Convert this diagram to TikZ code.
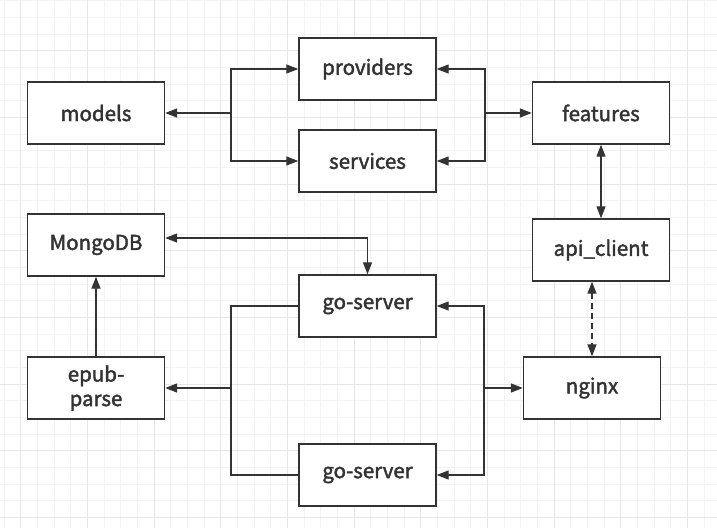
\documentclass[tikz,border=0pt]{standalone}
\usepackage{fontspec}
\setmainfont{Noto Sans CJK SC}
\newfontfamily\boxfont[FakeBold=2]{Noto Sans CJK SC}
\usetikzlibrary{arrows.meta}
\definecolor{ink}{HTML}{333333}
\definecolor{gridminor}{HTML}{F3F3F3}
\definecolor{gridmajor}{HTML}{E6E6E6}
\begin{document}
\begin{tikzpicture}
[x=1pt,y=-1pt,
box/.style={draw=ink, fill=white, line width=1.4pt,
            minimum width=137pt, minimum height=62pt,
            inner sep=0pt, align=center, text=ink,
            font=\boxfont\fontsize{20.5}{24.5}\selectfont},
link/.style={draw=ink, line width=1.3pt},
arr/.style={link, -{Triangle[length=12pt,width=9pt]}},
dbl/.style={link, {Triangle[length=12pt,width=9pt]}-{Triangle[length=12pt,width=9pt]}}]
\useasboundingbox (0,0) rectangle (717,528);
\fill[white] (0,0) rectangle (717,528);
% grid
\foreach \k in {0,...,43} {
  \draw[gridminor, line width=1pt] (4+16.667*\k,0) -- (4+16.667*\k,528);
  \draw[gridminor, line width=1pt] (0,0.67+16.667*\k) -- (717,0.67+16.667*\k);
}
\foreach \k in {0,...,10} {
  \draw[gridmajor, line width=1pt] (20.7+66.667*\k,0) -- (20.7+66.667*\k,528);
  \draw[gridmajor, line width=1pt] (0,50.7+66.667*\k) -- (717,50.7+66.667*\k);
}
% boxes
\node[box] (models)    at (96,113)    {models};
\node[box] (providers) at (367.5,69)  {providers};
\node[box] (services)  at (367.5,161) {services};
\node[box] (features)  at (601,113)   {features};
\node[box] (apiclient) at (601,250)   {api\_client};
\node[box] (mongo)     at (96,245)    {MongoDB};
\node[box] (epub)      at (96,388)    {epub-\\parse};
\node[box] (goa)       at (367.5,306) {go-server};
\node[box] (gob)       at (367.5,475) {go-server};
\node[box] (nginx)     at (592,388)   {nginx};
% junctions
\coordinate (jmodels) at (231,113);
\coordinate (jfeat)   at (485,113);
\coordinate (jepub)   at (231,388);
\coordinate (jnginx)  at (484,388);
% top part
\draw[arr] (jmodels) -- (models);
\draw[arr] (jmodels) |- (providers);
\draw[arr] (jmodels) |- (services);
\draw[arr] (jfeat) -- (features);
\draw[arr] (jfeat) |- (providers);
\draw[arr] (jfeat) |- (services);
\draw[dbl] (features) -- (apiclient);
\draw[dbl, dash pattern=on 6pt off 4pt] (nginx.north |- apiclient.south) -- (nginx.north);
% bottom part
\draw[dbl] (goa.north) |- ([yshift=7pt]mongo.east);
\draw[arr] (epub) -- (mongo);
\draw[link] (goa.west) -| (jepub);
\draw[link] (gob.west) -| (jepub);
\draw[arr] (jepub) -- (epub);
\draw[arr] (jnginx) -- (nginx);
\draw[arr] (jnginx) |- (goa);
\draw[arr] (jnginx) |- (gob);
\end{tikzpicture}
\end{document}
